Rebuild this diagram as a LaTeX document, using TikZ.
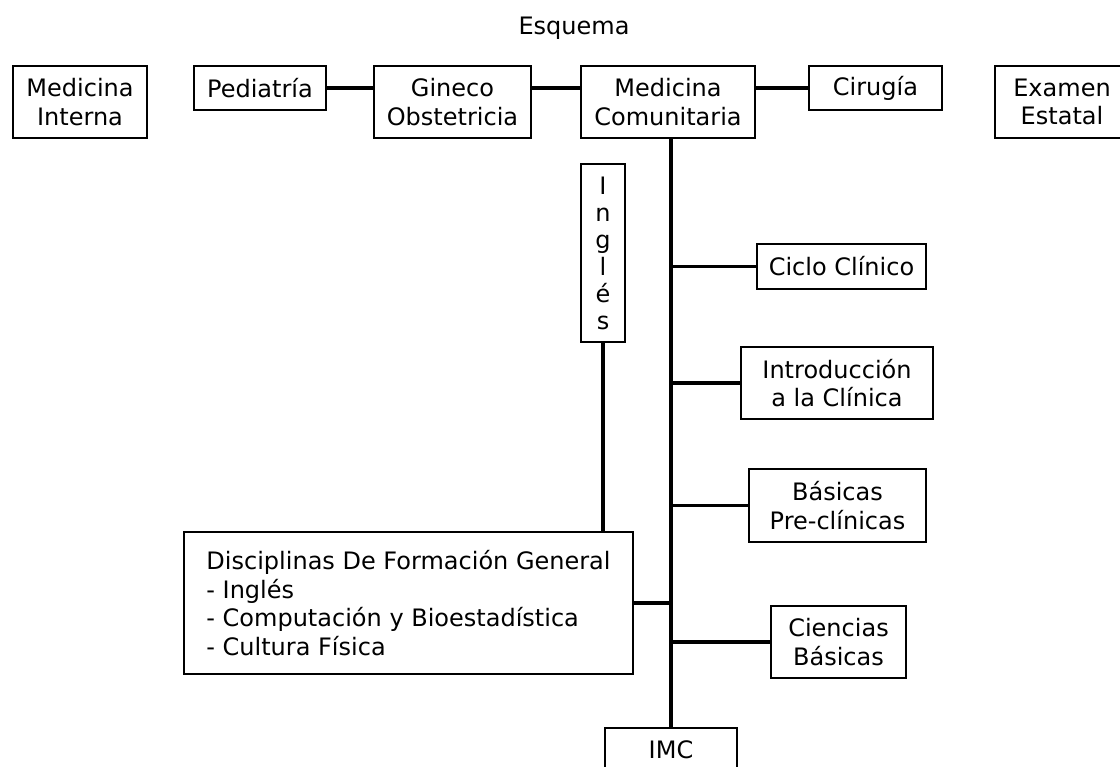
\documentclass[tikz,border=0pt]{standalone}
\usepackage{fontspec}
\setmainfont{DejaVu Sans}
\begin{document}
\begin{tikzpicture}[x=1pt,y=-1pt,
  box/.style={draw,line width=1.6pt,align=center,inner sep=0pt,
    font=\fontsize{24}{28.5}\selectfont},
  link/.style={line width=3.2pt}]
\clip (0,0) rectangle (1120,767);

\node[font=\fontsize{24}{28.5}\selectfont] (esq) at (574,28) {Esquema};

% fila superior
\node[box,minimum width=134,minimum height=72] (mi) at (80,102) {Medicina\\Interna};
\node[box,minimum width=132,minimum height=44] (pe) at (260,88) {Pediatría};
\node[box,minimum width=157,minimum height=72] (gi) at (452.5,102) {Gineco\\Obstetricia};
\node[box,minimum width=174,minimum height=72] (mc) at (668,102) {Medicina\\Comunitaria};
\node[box,minimum width=133,minimum height=44] (ci) at (875.5,88) {Cirugía};
\node[box,minimum width=134,minimum height=72] (ee) at (1062,102) {Examen\\Estatal};

% columna
\node[box,minimum width=44,minimum height=178,
  font=\fontsize{24}{27}\selectfont] (ing) at (603,253) {I\\n\\g\\l\\é\\s};
\node[box,minimum width=169,minimum height=45] (cc) at (841.5,266.5) {Ciclo Clínico};
\node[box,minimum width=192,minimum height=72] (ic) at (837,383) {Introducción\\a la Clínica};
\node[box,minimum width=177,minimum height=73] (bp) at (837.5,505.5) {Básicas\\Pre-clínicas};
\node[box,minimum width=135,minimum height=72] (cb) at (838.5,642) {Ciencias\\Básicas};
\node[box,minimum width=449,minimum height=142,align=left] (dfg) at (408.5,603)
  {Disciplinas De Formación General\\- Inglés\\- Computación y Bioestadística\\- Cultura Física};
\node[box,minimum width=132,minimum height=44] (imc) at (671,750) {IMC};

\draw[link] (pe.east) -- (pe.east -| gi.west);
\draw[link] (gi.east |- pe.east) -- (mc.west |- pe.east);
\draw[link] (mc.east |- ci.west) -- (ci.west);

\draw[link] (imc.north) -- (imc.north |- mc.south);
\draw[link] (ing.south) -- (ing.south |- dfg.north);
\draw[link] (cc.west) -- (cc.west -| imc.north);
\draw[link] (ic.west) -- (ic.west -| imc.north);
\draw[link] (bp.west) -- (bp.west -| imc.north);
\draw[link] (cb.west) -- (cb.west -| imc.north);
\draw[link] (dfg.east) -- (dfg.east -| imc.north);
\end{tikzpicture}
\end{document}
